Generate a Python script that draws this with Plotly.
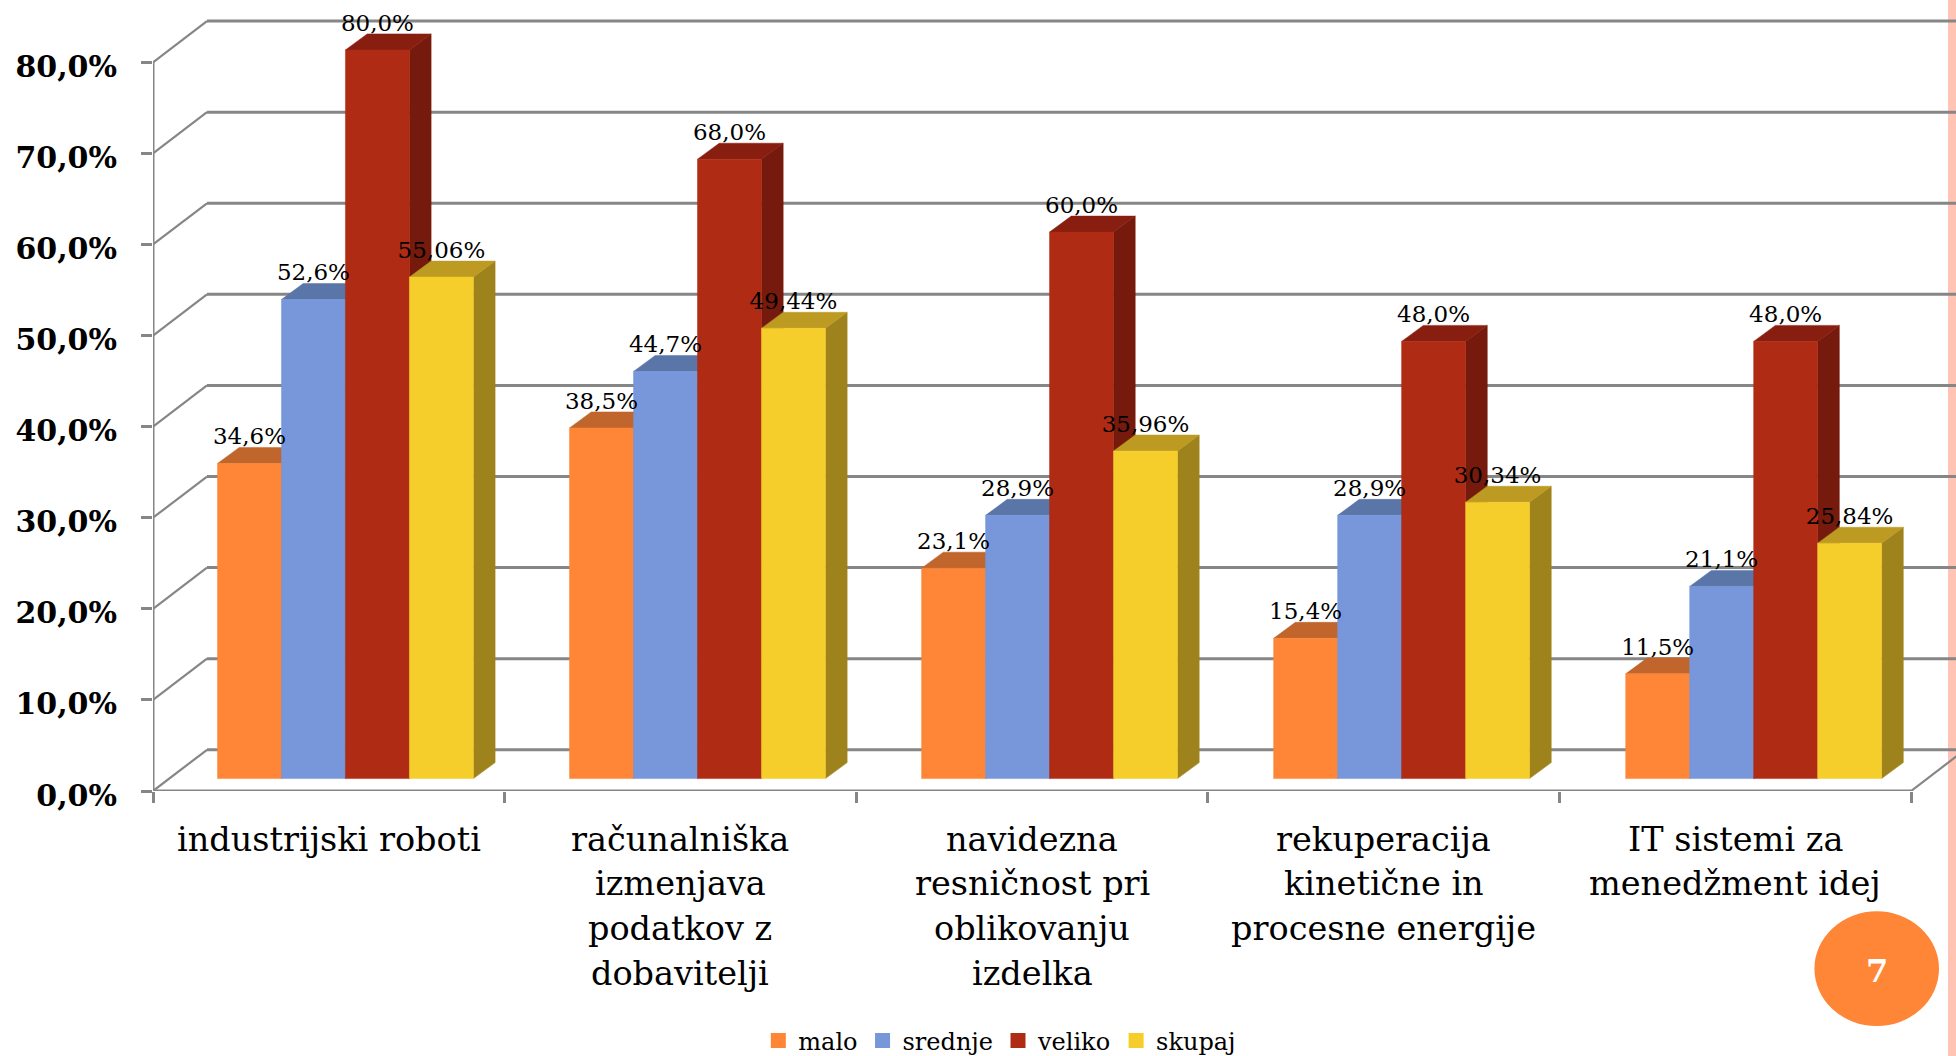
import plotly.graph_objects as go

# Chart data
categories = [
    ["industrijski roboti"],
    ["računalniška", "izmenjava", "podatkov z", "dobavitelji"],
    ["navidezna", "resničnost pri", "oblikovanju", "izdelka"],
    ["rekuperacija", "kinetične in", "procesne energije"],
    ["IT sistemi za", "menedžment idej"],
]
malo = [34.6, 38.5, 23.1, 15.4, 11.5]
srednje = [52.6, 44.7, 28.9, 28.9, 21.1]
veliko = [80.0, 68.0, 60.0, 48.0, 48.0]
skupaj = [55.06, 49.44, 35.96, 30.34, 25.84]
y_ticks = [0, 10, 20, 30, 40, 50, 60, 70, 80]
page_number = "7"

series = [
    ("malo", malo, 1, "#FF8637", "#C0652C", "#B85F28"),
    ("srednje", srednje, 1, "#7797DA", "#5A75A8", "#4F6899"),
    ("veliko", veliko, 1, "#B02B14", "#881E10", "#751A0C"),
    ("skupaj", skupaj, 2, "#F6CE2B", "#BD9A22", "#9E821C"),
]

# Page and plot geometry (pixels)
W, H = 1956, 1056
PLOT_L, PLOT_B_PX, PX_PER_CAT, PX_PER_UNIT = 152.5, 790.7, 351.7, 9.105

# Pseudo-3D projection, expressed in axis units
WALL_DX, WALL_DY = 54 / PX_PER_CAT, 41.2 / PX_PER_UNIT
BAR_DX, BAR_DY = 21.7 / PX_PER_CAT, 16 / PX_PER_UNIT
BAR_W = 64 / PX_PER_CAT
GROUP_PAD = 64.5 / PX_PER_CAT
GROUP_PITCH = 352.15 / PX_PER_CAT
BAR_BASE = 12.4 / PX_PER_UNIT
LABEL_GAP = 24.8 / PX_PER_UNIT
N = len(categories)
X_MAX = (W - PLOT_L) / PX_PER_CAT
Y_MAX = PLOT_B_PX / PX_PER_UNIT

GRID = "#868686"
SERIF = "DejaVu Serif"


def page_x(px):
    return (px - PLOT_L) / (W - PLOT_L)


def page_y(py):
    return (PLOT_B_PX - py) / PLOT_B_PX


fig = go.Figure()


def add_line(xs, ys, width=3):
    fig.add_trace(go.Scatter(x=xs, y=ys, mode="lines", showlegend=False, hoverinfo="skip",
                             line=dict(color=GRID, width=width)))


# Back wall gridlines and the diagonals joining them to the value axis
for v in y_ticks:
    add_line([WALL_DX, N + WALL_DX], [v + WALL_DY] * 2)
    add_line([0, WALL_DX], [v, v + WALL_DY], width=2.2)
# Value axis, floor front edge and floor right edge
add_line([0, 0], [0, y_ticks[-1]])
add_line([0, N], [0, 0])
add_line([N, N + WALL_DX], [0, WALL_DY], width=2.2)


def polygons(values, slot, face):
    """Build one face per bar of a series, from its values, with None breaks."""
    xs, ys = [], []
    for i, v in enumerate(values):
        x0 = i * GROUP_PITCH + GROUP_PAD + slot * BAR_W
        x1 = x0 + BAR_W
        b, t = BAR_BASE, BAR_BASE + v
        if face == "side":
            px = [x1, x1 + BAR_DX, x1 + BAR_DX, x1, x1]
            py = [b, b + BAR_DY, t + BAR_DY, t, b]
        elif face == "top":
            px = [x0, x0 + BAR_DX, x1 + BAR_DX, x1, x0]
            py = [t, t + BAR_DY, t + BAR_DY, t, t]
        else:
            px = [x0, x0, x1, x1, x0]
            py = [b, t, t, b, b]
        xs += px + [None]
        ys += py + [None]
    return xs, ys


# Bars are painted series by series so later fronts cover earlier tops and sides
for slot, (name, values, decimals, front, top, side) in enumerate(series):
    for face, colour in (("side", side), ("top", top), ("front", front)):
        xs, ys = polygons(values, slot, face)
        fig.add_trace(go.Scatter(x=xs, y=ys, mode="lines", fill="toself", fillcolor=colour,
                                 line=dict(color=colour, width=0.5), showlegend=False,
                                 hoverinfo="skip", name=name))

# Value labels above each bar
for slot, (name, values, decimals, front, top, side) in enumerate(series):
    fig.add_trace(go.Scatter(
        x=[i * GROUP_PITCH + GROUP_PAD + (slot + 0.5) * BAR_W for i in range(N)],
        y=[v + BAR_BASE + LABEL_GAP for v in values],
        mode="text",
        text=[f"{v:.{decimals}f}%".replace(".", ",") for v in values],
        textposition="middle center",
        textfont=dict(family=SERIF, size=23, color="#000000"),
        cliponaxis=False, showlegend=False, hoverinfo="skip",
    ))

# Legend entries
for name, values, decimals, front, top, side in series:
    fig.add_trace(go.Scatter(x=[None], y=[None], mode="markers", name=name,
                             marker=dict(symbol="square", size=15, color=front)))

# Category labels, one annotation per wrapped line for exact line pitch
annotations = []
for i, lines in enumerate(categories):
    for k, line in enumerate(lines):
        annotations.append(dict(
            x=(i + 0.5) / X_MAX, y=page_y(PLOT_B_PX + 48 + k * 44.9), xref="paper", yref="paper",
            text=line, showarrow=False, xanchor="center", yanchor="middle",
            font=dict(family=SERIF, size=33.5, color="#000000"),
        ))
# Page number badge text
annotations.append(dict(
    x=page_x(1876.7), y=page_y(971), xref="paper", yref="paper", text=page_number,
    showarrow=False, xanchor="center", yanchor="middle",
    font=dict(family=SERIF, size=32, color="#FFFFFF", weight=700),
))

shapes = [
    # Slide edge band
    dict(type="rect", xref="paper", yref="paper", layer="below", line_width=0,
         x0=page_x(1948), x1=page_x(W), y0=page_y(0), y1=page_y(H), fillcolor="#FFC4B3"),
    # Page number badge
    dict(type="circle", xref="paper", yref="paper", layer="below", line_width=0,
         x0=page_x(1814.4), x1=page_x(1939), y0=page_y(911), y1=page_y(1025.7),
         fillcolor="#FF8637"),
]

fig.update_layout(
    width=W, height=H, autosize=False,
    margin=dict(l=PLOT_L, r=0, t=0, b=H - PLOT_B_PX, autoexpand=False, pad=0),
    paper_bgcolor="#FFFFFF", plot_bgcolor="rgba(0,0,0,0)",
    xaxis=dict(range=[0, X_MAX], tickmode="array", tickvals=list(range(N + 1)),
               showticklabels=False, ticks="outside", ticklen=11, tickwidth=3, tickcolor=GRID,
               showgrid=False, zeroline=False, showline=False, fixedrange=True),
    yaxis=dict(range=[0, Y_MAX], tickmode="array", tickvals=y_ticks,
               ticktext=[f"{v},0%" for v in y_ticks],
               ticks="outside", ticklen=11, tickwidth=3, tickcolor=GRID,
               ticklabelstandoff=18, ticklabelshift=4,
               showgrid=False, zeroline=False, showline=False, fixedrange=True,
               tickfont=dict(family=SERIF, size=30, color="#000000", weight=700)),
    legend=dict(orientation="h", x=page_x(758), y=page_y(1018), xanchor="left", yanchor="top",
                font=dict(family=SERIF, size=24, color="#000000"), bgcolor="rgba(0,0,0,0)",
                itemwidth=30, tracegroupgap=0),
    annotations=annotations, shapes=shapes, showlegend=True,
)

fig.write_html("out.html")
